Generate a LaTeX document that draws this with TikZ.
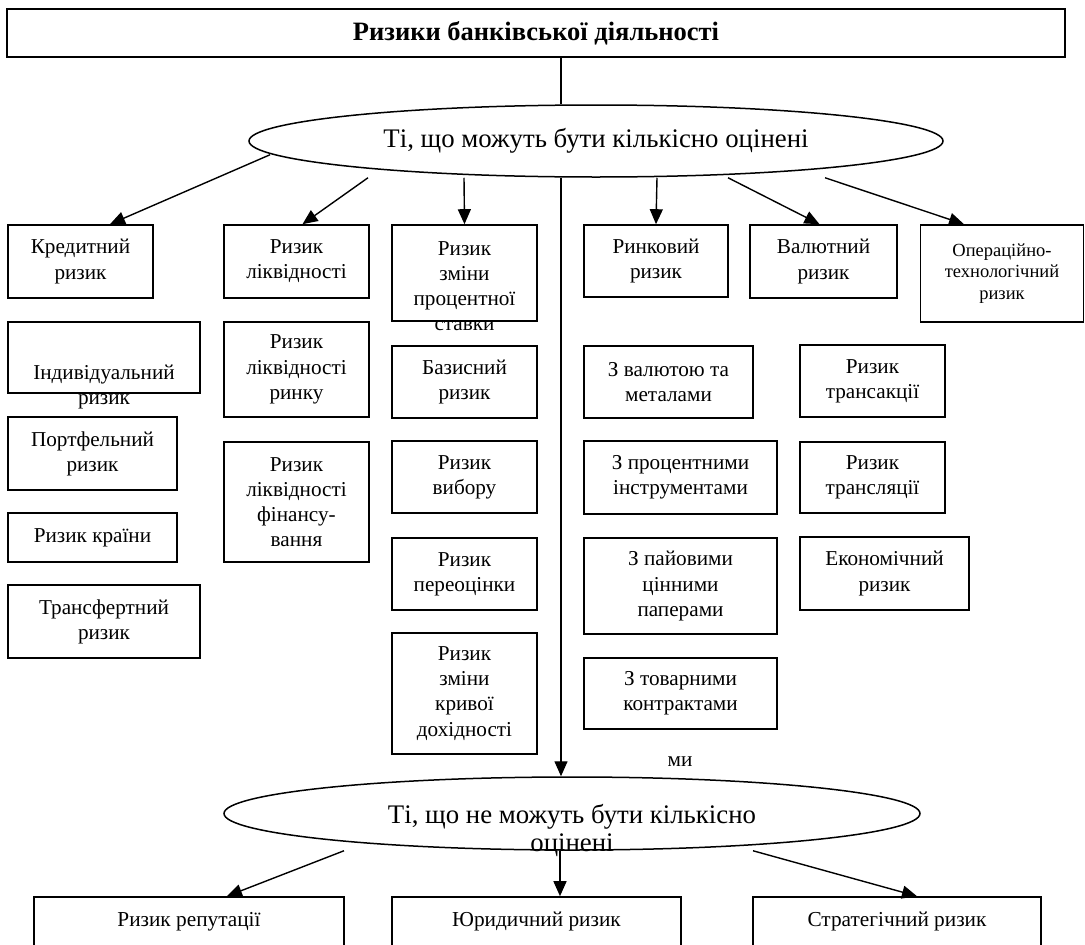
\documentclass[tikz,border=0pt]{standalone}
\usepackage{fontspec}
\setmainfont{Liberation Serif}
\usetikzlibrary{shapes.geometric,arrows.meta}
\newcommand\bxfont{\fontsize{21.2}{25.2}\selectfont}
\newcommand\smfont{\fontsize{18.5}{21.7}\selectfont}
\newcommand\ttlfont{\fontsize{26.5}{30}\selectfont}
\newcommand\ovfont{\fontsize{26.8}{28}\selectfont}

\begin{document}
\begin{tikzpicture}[x=1pt,y=-1pt]
	\tikzset{box/.style={draw,line width=1.6pt,align=center,inner sep=0pt,font=\bxfont}}
	\tikzset{sz/.style 2 args={minimum width=#1,minimum height=#2}}
	\tikzset{oval/.style={draw,ellipse,line width=1.5pt,inner sep=0pt,font=\ovfont}}
	\tikzset{arr/.style={line width=1.4pt,-{Triangle[length=15pt,width=13pt]}}}
	\useasboundingbox (0,0) rectangle (1085,945);
	\coordinate (axis) at (561,0);

	\node[box,sz={1058}{48},font={\ttlfont\bfseries}] (root) at (536,33) {Ризики банківської діяльності};
	\node[oval,sz={694}{72}] (kilk) at (596,141) {Ті, що можуть бути кількісно оцінені};
	\draw[line width=1.4pt] (root.south -| axis) -- (kilk.north -| axis);

	% first row
	\node[box,sz={145}{73}] (kred) at (80.5,261.5) {Кредитний\\ризик};
	\node[box,sz={145}{73}] (likv) at (296.5,261.5) {Ризик\\ліквідності};
	\node[box,sz={145}{96}] (proc) at (464.5,273) {};
	\node[font=\bxfont,align=center] (proct) at (464.5,286) {Ризик\\зміни\\процентної\\ставки};
	\node[box,sz={144}{72}] (rynk) at (656,261) {Ринковий\\ризик};
	\node[box,sz={147}{73}] (val) at (823.5,261.5) {Валютний\\ризик};
	\node[box,sz={163}{97},font=\smfont] (oper) at (1002,273.5) {Операційно-\\технологічний\\ризик};

	% credit risks
	\node[box,sz={192}{71}] (indiv) at (104,357.5) {};
	\node[font=\bxfont,align=center] (indivt) at (104,387) {Індивідуальний\\ризик};
	\node[box,sz={169}{73}] (portf) at (92.5,453.5) {Портфельний\\ризик};
	\node[box,sz={169}{49}] (krain) at (92.5,537.5) {Ризик країни};
	\node[box,sz={192}{73}] (transf) at (104,621.5) {Трансфертний\\ризик};

	% liquidity risks
	\node[box,sz={145}{95}] (likvr) at (296.5,369.5) {Ризик\\ліквідності\\ринку};
	\node[box,sz={145}{120}] (likvf) at (296.5,502) {Ризик\\ліквідності\\фінансу-\\вання};

	% interest rate risks
	\node[box,sz={145}{72}] (baz) at (464.5,382) {Базисний\\ризик};
	\node[box,sz={145}{72}] (vyb) at (464.5,477) {Ризик\\вибору};
	\node[box,sz={145}{72}] (pereoc) at (464.5,574) {Ризик\\переоцінки};
	\node[box,sz={145}{121}] (kryv) at (464.5,693.5) {Ризик\\зміни\\кривої\\дохідності};

	% market risks
	\node[box,sz={169}{72}] (valmet) at (668.5,382) {З валютою та\\металами};
	\node[box,sz={193}{73}] (instr) at (680.5,477.5) {З процентними\\інструментами};
	\node[box,sz={193}{96}] (pai) at (680.5,586) {З пайовими\\цінними\\паперами};
	\node[box,sz={193}{71}] (tov) at (680.5,693.5) {З товарними\\контрактами};
	\node[font=\bxfont] (mi) at (680,762) {ми};

	% currency risks
	\node[box,sz={145}{72}] (transak) at (872.5,381) {Ризик\\трансакції};
	\node[box,sz={145}{71}] (translj) at (872.5,477.5) {Ризик\\трансляції};
	\node[box,sz={169}{73}] (ekon) at (884.5,573.5) {Економічний\\ризик};

	\node[oval,sz={696}{73}] (nekilk) at (572,813.5) {};
	\node[font=\ovfont,align=center] (nekilkt) at (572,830) {Ті, що не можуть бути кількісно\\оцінені};

	\node[box,sz={310}{49},font=\fontsize{21.3}{25}\selectfont] (rep) at (189,921.5) {Ризик репутації};
	\node[box,sz={289}{49},font=\fontsize{21.3}{25}\selectfont] (jur) at (536.5,921.5) {Юридичний ризик};
	\node[box,sz={288}{49},font=\fontsize{21.3}{25}\selectfont] (strat) at (897,921.5) {Стратегічний ризик};

	\draw[arr] ([shift={(-326,-23)}]kilk.south) -- ([xshift=29.5]kred.north);
	\draw[arr] ([xshift=-228]kilk.south) -- ([xshift=6]likv.north);
	\draw[arr] ([xshift=-132]kilk.south) -- (proc.north);
	\draw[arr] ([xshift=61]kilk.south) -- (rynk.north);
	\draw[arr] ([xshift=132]kilk.south) -- ([xshift=-4]val.north);
	\draw[arr] ([xshift=229]kilk.south) -- ([xshift=-38]oper.north);
	\draw[arr] (kilk.south -| axis) -- (nekilk.north -| axis);

	\draw[arr] ([xshift=-228]nekilk.south) -- ([xshift=38]rep.north);
	\draw[arr] ([xshift=-12]nekilk.south) -- ([xshift=23.5]jur.north);
	\draw[arr] ([xshift=181]nekilk.south) -- ([xshift=20]strat.north);
\end{tikzpicture}
\end{document}
